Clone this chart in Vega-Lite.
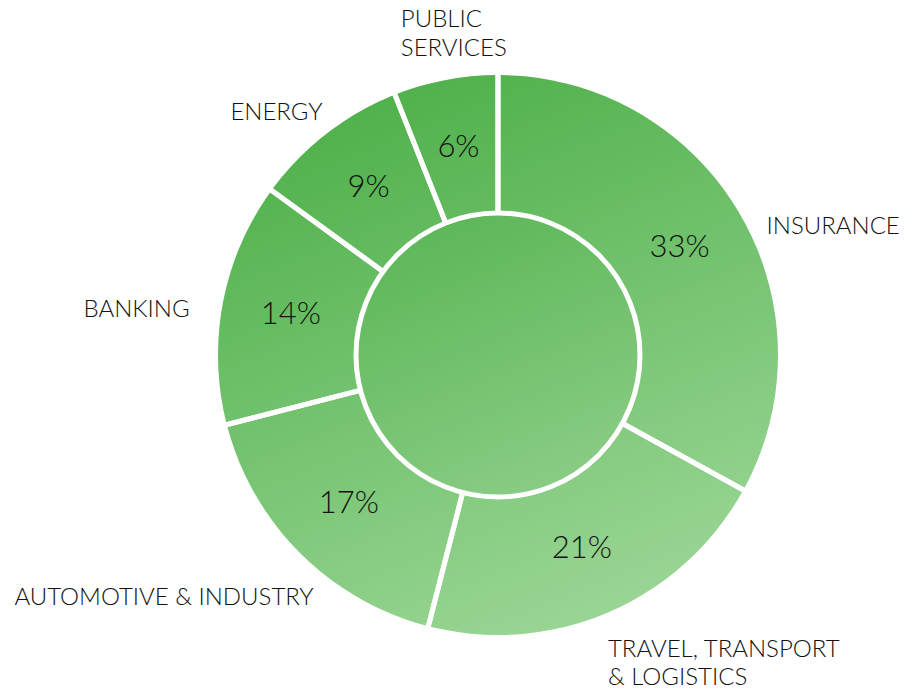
{
  "$schema": "https://vega.github.io/schema/vega-lite/v6.json",
  "width": 780,
  "height": 670,
  "autosize": "none",
  "padding": {"left": 108, "top": 20, "right": 20, "bottom": 1},
  "background": "white",
  "config": {"view": {"stroke": null}, "text": {"font": "Lato", "fontWeight": 300, "color": "#111111"}},
  "data": {"values": [
    {"rank": 1, "category": "INSURANCE", "share": 0.33},
    {"rank": 2, "category": "TRAVEL, TRANSPORT\n& LOGISTICS", "share": 0.21},
    {"rank": 3, "category": "AUTOMOTIVE & INDUSTRY", "share": 0.17},
    {"rank": 4, "category": "BANKING", "share": 0.14},
    {"rank": 5, "category": "ENERGY", "share": 0.09},
    {"rank": 6, "category": "PUBLIC\nSERVICES", "share": 0.06}
  ]},
  "encoding": {
    "theta": {"field": "share", "type": "quantitative", "stack": true, "scale": {"domain": [0, 1]}},
    "order": {"field": "rank", "type": "quantitative"}
  },
  "layer": [
    {
      "data": {"values": [{"k": 1}]},
      "mark": {"type": "arc", "radius": 280, "theta": 0, "theta2": 6.2832,
        "fill": {"gradient": "linear", "x1": 0.3, "y1": 0, "x2": 0.7, "y2": 1,
          "stops": [{"offset": 0, "color": "#4eb049"}, {"offset": 1, "color": "#9cd797"}]}},
      "encoding": {"theta": null, "order": null}
    },
    {
      "mark": {"type": "arc", "radius": 284, "radius2": 140, "fill": "transparent", "stroke": "white", "strokeWidth": 5}
    },
    {
      "data": {"values": [{"k": 1}]},
      "mark": {"type": "arc", "radius": 142, "theta": 0, "theta2": 6.2832, "stroke": "white", "strokeWidth": 5,
        "fill": {"gradient": "linear", "x1": 0.3, "y1": 0, "x2": 0.7, "y2": 1,
          "stops": [{"offset": 0, "color": "#5cb757"}, {"offset": 1, "color": "#8acd85"}]}},
      "encoding": {"theta": null, "order": null}
    },
    {
      "mark": {"type": "text", "radius": 211, "fontSize": 31, "align": "center", "baseline": "middle"},
      "encoding": {"text": {"field": "share", "type": "quantitative", "format": ".0%"}}
    },
    {
      "mark": {"type": "text", "radius": 312, "fontSize": 24, "align": "left", "baseline": "top", "dy": 19, "lineBreak": "\n", "lineHeight": 28},
      "encoding": {"text": {"condition": {"test": "datum.rank === 1", "field": "category"}, "value": ""}}
    },
    {
      "mark": {"type": "text", "radius": 307, "fontSize": 24, "align": "left", "baseline": "top", "dx": -12, "dy": 1, "lineBreak": "\n", "lineHeight": 28},
      "encoding": {"text": {"condition": {"test": "datum.rank === 2", "field": "category"}, "value": ""}}
    },
    {
      "mark": {"type": "text", "radius": 330, "fontSize": 24, "align": "right", "baseline": "top", "dx": 49, "dy": -2, "lineBreak": "\n", "lineHeight": 28},
      "encoding": {"text": {"condition": {"test": "datum.rank === 3", "field": "category"}, "value": ""}}
    },
    {
      "mark": {"type": "text", "radius": 314, "fontSize": 24, "align": "right", "baseline": "middle", "dy": 14, "lineBreak": "\n", "lineHeight": 28},
      "encoding": {"text": {"condition": {"test": "datum.rank === 4", "field": "category"}, "value": ""}}
    },
    {
      "mark": {"type": "text", "radius": 306, "fontSize": 24, "align": "right", "baseline": "middle", "dx": 12, "lineBreak": "\n", "lineHeight": 28},
      "encoding": {"text": {"condition": {"test": "datum.rank === 5", "field": "category"}, "value": ""}}
    },
    {
      "mark": {"type": "text", "radius": 353, "fontSize": 24, "align": "left", "baseline": "top", "dx": -31, "lineBreak": "\n", "lineHeight": 29},
      "encoding": {"text": {"condition": {"test": "datum.rank === 6", "field": "category"}, "value": ""}}
    }
  ]
}
